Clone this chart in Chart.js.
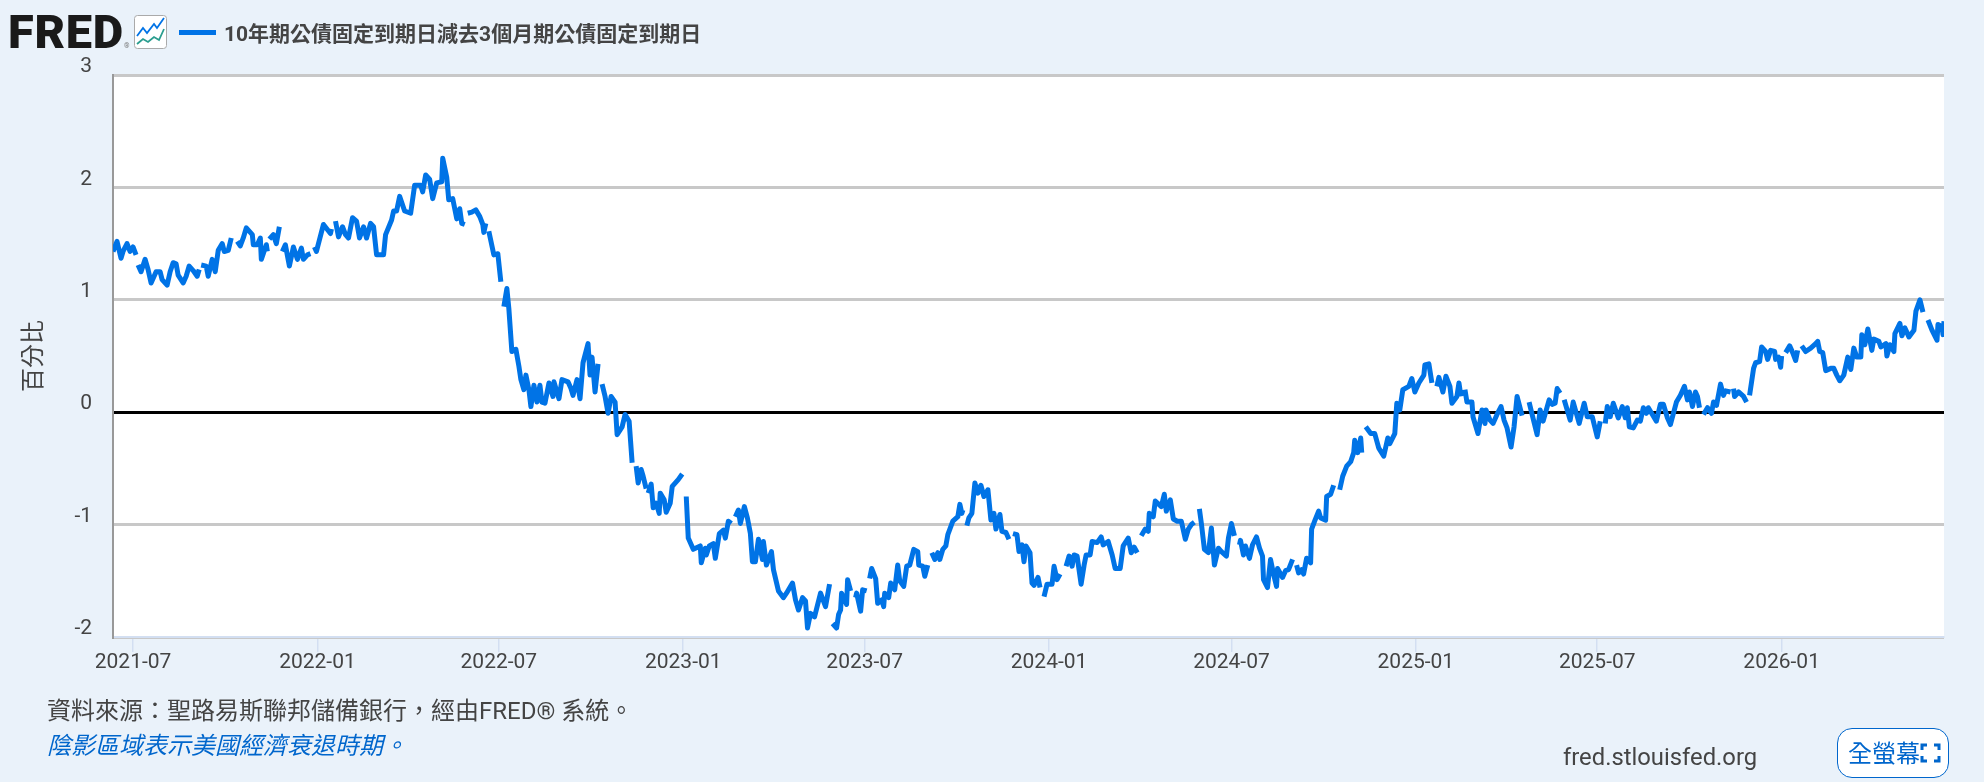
<!DOCTYPE html>
<html lang="zh-Hant">
<head>
<meta charset="utf-8">
<title>FRED</title>
<script src="https://cdn.jsdelivr.net/npm/chart.js@4"></script>
<style>
  html, body { margin: 0; padding: 0; background: #eaf2fa; }
  #page { position: relative; width: 1984px; height: 782px; overflow: hidden; background: #eaf2fa; }
  #myChart { position: absolute; left: 0; top: 0; }
  .txt { position: absolute; white-space: nowrap; color: #444; font-family: Roboto, "Noto Sans CJK TC", sans-serif; line-height: 1; }
  #logo { left: 8px; top: 8px; font-size: 47px; font-weight: 900; color: #1a1a1a; letter-spacing: 0.7px; }
  #logo sup { font-size: 7px; font-weight: 400; color: #777; letter-spacing: 0; vertical-align: baseline; margin-left: 0; }
  #icon { position: absolute; left: 134px; top: 15px; }
  #swatch { position: absolute; left: 179px; top: 30px; width: 37px; height: 5px; background: #0073e6; }
  #legendText { left: 224px; top: 24px; font-size: 21px; font-weight: 700; }
  #source { left: 47px; top: 699px; font-size: 24px; }
  #shading { left: 47px; top: 734px; font-size: 24px; font-style: italic; color: #0066cc; }
  #site { left: 1563px; top: 746px; font-size: 23.8px; }
  #fullBtn { position: absolute; left: 1837px; top: 728px; width: 112px; height: 50px; box-sizing: border-box; border: 1.5px solid #0066cc; border-radius: 15px; background: #fff; }
  #fullBtn span { position: absolute; left: 10px; top: 11px; font-size: 24px; color: #0066cc; font-family: "Noto Sans CJK TC", sans-serif; line-height: 1; white-space: nowrap; }
  #fullBtn svg { position: absolute; left: 82px; top: 14px; }
</style>
</head>
<body>
<div id="page">
  <canvas id="myChart" width="1984" height="782"></canvas>
  <div class="txt" id="logo">FRED<sup>®</sup></div>
  <svg id="icon" width="33" height="34" viewBox="0 0 33 34">
    <rect x="0.5" y="0.5" width="32" height="33" rx="3" fill="#fff" stroke="#aaa"/>
    <polyline points="3,21 9,13 13,18 20,9 23,13 30,3" fill="none" stroke="#0073e6" stroke-width="1.8"/>
    <polyline points="3,29 9,24 14,27 20,22 25,25 30,14" fill="none" stroke="#2a9d8f" stroke-width="1.8"/>
  </svg>
  <div id="swatch"></div>
  <div class="txt" id="legendText"></div>
  <div class="txt" id="source">資料來源：聖路易斯聯邦儲備銀行，經由FRED® 系統。</div>
  <div class="txt" id="shading">陰影區域表示美國經濟衰退時期。</div>
  <div class="txt" id="site">fred.stlouisfed.org</div>
  <div id="fullBtn">
    <span>全螢幕</span>
    <svg width="21" height="20" viewBox="0 0 21 20" fill="none" stroke="#0066cc" stroke-width="3">
      <path d="M7,2 H2 V7 M14,2 H19 V7 M2,13 V18 H7 M19,13 V18 H14"/>
    </svg>
  </div>
</div>
<script>
const seriesName = '10年期公債固定到期日減去3個月期公債固定到期日';
const axisTitle = '百分比';
const firstDay = Date.UTC(2021, 5, 11);
const lastDayOffset = 1827;
const monthLabels = ['2021-07', '2022-01', '2022-07', '2023-01', '2023-07', '2024-01', '2024-07', '2025-01', '2025-07', '2026-01'];

// days after firstDay, one entry per reading in spreadPct (null = no data that day)
const obsDay = [
  0,4,8,10,14,17,20,23,24,
  25,28,32,35,38,43,47,49,54,57,60,63,65,70,73,76,80,84,86,87,
  88,93,95,99,102,105,109,111,115,118,121,
  124,127,130,133,139,140,144,147,148,153,154,155,
  156,160,163,166,168,
  169,172,176,180,184,188,190,194,197,199,
  201,203,210,217,218,220,
  222,225,229,232,235,239,243,246,250,253,257,260,263,270,272,278,280,283,286,291,297,301,307,309,312,316,319,323,328,329,333,335,339,341,343,346,348,351,353,
  354,358,362,366,369,370,372,373,
  375,380,384,387,389,
  390,393,395,398,402,405,407,410,412,415,417,420,423,426,428,431,435,439,440,445,448,454,457,459,463,466,469,474,476,478,481,484,485,
  488,491,494,497,501,503,508,511,515,518,520,
  522,524,527,529,532,533,
  534,537,539,542,545,546,550,552,556,558,562,564,568,570,
  572,574,579,586,587,591,592,595,599,601,605,609,611,614,617,619,
  621,624,626,630,633,636,638,641,644,648,649,652,657,659,664,669,672,678,681,684,688,691,693,696,700,706,711,715,716,
  718,722,724,726,727,732,733,736,738,
  741,742,746,748,752,754,
  755,757,761,763,767,769,770,774,776,780,783,785,789,792,795,799,803,804,808,810,813,814,
  817,820,823,825,828,831,833,838,843,845,847,848,850,
  852,854,857,860,863,866,869,873,876,879,881,885,887,891,894,896,
  898,902,904,907,909,911,915,917,919,923,925,927,
  929,932,937,939,942,945,948,
  951,954,957,959,962,966,969,971,975,977,982,986,988,993,997,1000,1005,1008,1013,1016,1019,1022,1023,
  1026,1030,1033,1034,1038,1040,1046,1049,1051,1055,1058,1062,1066,1070,1073,1076,1079,1081,
  1084,1086,1089,1093,1096,1099,1103,1106,1111,1113,1116,1119,1122,
  1124,1125,1128,1130,1134,1137,1141,1144,1147,1148,1152,1155,1158,1161,1162,1167,1170,1173,1177,1178,
  1181,1183,1186,1188,1191,1195,1196,1199,1203,1205,1210,1211,1215,1218,1221,
  1224,1227,1231,1235,1238,1239,1242,1245,1246,1248,
  1250,1255,1259,1263,1268,1272,1274,1279,1281,1284,1287,1293,1296,1299,1303,1308,1309,1313,1316,1319,
  1321,1323,1327,1330,1334,1336,1341,1343,1345,1347,
  1349,1351,1356,1357,1362,1366,1369,1370,1374,1377,1381,1385,1388,1391,1395,1398,1401,1406,1409,
  1413,1416,1421,1424,1427,1433,1436,1439,1441,1444,1446,
  1448,1454,1457,1463,1468,1471,1476,1481,1484,1487,
  1489,1491,1494,1497,1502,1506,1509,1511,1513,1517,1521,
  1524,1527,1530,1532,1536,1540,1544,1547,1551,1554,1557,1560,1564,1568,1571,1573,1576,1579,1581,1583,1585,
  1587,1591,1595,1597,1600,1604,1607,1609,1614,1615,
  1617,1618,1622,1627,1630,1631,
  1633,1637,1639,1643,1645,1649,1651,1654,1658,1659,1662,1664,1665,1667,
  1669,1673,1676,1679,1681,1683,
  1685,1689,1694,1699,1701,1703,1706,1709,1714,1717,1720,1723,1727,1731,1734,1737,1740,1744,1745,1748,1751,1755,1757,1762,1764,1769,1770,1773,1777,1778,1783,1785,1788,1792,1797,1799,1803,1806,1808,
  1811,1815,1820,1821,1825,1826,1827
];

const spreadPct = [
  1.43,1.52,1.37,1.43,1.50,1.43,1.47,1.40,null,
  1.31,1.25,1.36,1.27,1.15,1.25,1.25,1.18,1.13,1.25,1.33,1.32,1.22,1.15,1.21,1.30,1.26,1.21,1.27,null,
  1.31,1.30,1.21,1.36,1.25,1.44,1.50,1.43,1.44,1.55,null,
  1.52,1.48,1.55,1.64,1.58,1.49,1.49,1.55,1.36,1.49,1.43,null,
  1.54,1.58,1.50,1.65,null,
  1.43,1.49,1.30,1.47,1.36,1.46,1.36,1.40,1.41,null,
  1.47,1.43,1.67,1.59,1.63,null,
  1.70,1.56,1.65,1.58,1.55,1.73,1.70,1.55,1.65,1.55,1.68,1.65,1.40,1.40,1.58,1.71,1.79,1.79,1.92,1.79,1.77,2.02,2.02,1.96,2.11,2.07,1.90,2.04,2.05,2.26,2.09,1.89,1.90,1.81,1.72,1.81,1.68,1.67,null,
  1.77,1.78,1.80,1.74,1.67,1.60,1.68,null,
  1.61,1.40,1.41,1.16,null,
  .94,1.10,.92,.54,.56,.41,.29,.20,.33,.20,.05,.24,.09,.24,.09,.08,.26,.14,.27,.12,.29,.27,.21,.15,.29,.12,.44,.61,.33,.49,.18,.43,null,
  .25,.14,-.01,.14,.09,-.20,-.13,-.02,-.08,-.45,null,
  -.48,-.63,-.51,-.57,-.68,null,
  -.72,-.64,-.85,-.81,-.90,-.72,-.78,-.89,-.81,-.66,-.62,-.60,-.55,null,
  -.75,-1.12,-1.22,-1.19,-1.34,-1.21,-1.27,-1.19,-1.17,-1.30,-1.08,-1.05,-1.12,-.97,-.99,null,
  -.93,-.87,-.99,-.84,-.94,-1.08,-1.33,-1.33,-1.13,-1.31,-1.15,-1.36,-1.24,-1.40,-1.59,-1.65,-1.61,-1.52,-1.67,-1.76,-1.65,-1.68,-1.92,-1.79,-1.82,-1.61,-1.73,-1.53,null,
  -1.88,-1.92,-1.80,-1.76,-1.61,-1.71,-1.49,-1.59,null,
  -1.65,-1.61,-1.77,-1.58,-1.59,null,
  -1.48,-1.39,-1.48,-1.70,-1.67,-1.73,-1.61,-1.65,-1.52,-1.58,-1.36,-1.50,-1.55,-1.37,-1.36,-1.22,-1.24,-1.36,-1.37,-1.46,-1.36,null,
  -1.25,-1.31,-1.25,-1.31,-1.22,-1.19,-1.09,-.97,-.93,-.82,-.90,-.87,null,
  -1.01,-.94,-.90,-.63,-.72,-.65,-.75,-.69,-.96,-.90,-1.04,-.91,-1.06,-1.07,-1.13,null,
  -1.08,-1.09,-1.24,-1.18,-1.33,-1.19,-1.25,-1.52,-1.54,-1.47,-1.56,null,
  -1.64,-1.53,-1.53,-1.37,-1.49,-1.44,null,
  -1.37,-1.28,-1.37,-1.27,-1.28,-1.53,-1.36,-1.27,-1.27,-1.15,-1.16,-1.11,-1.18,-1.15,-1.27,-1.39,-1.39,-1.19,-1.12,-1.25,-1.20,-1.25,null,
  -1.10,-1.04,-1.06,-.90,-.93,-.79,-.84,-.73,-.88,-.78,-.95,-.97,-.97,-1.13,-1.04,-1.00,-.98,null,
  -.86,-.99,-1.22,-1.25,-1.03,-1.36,-1.21,-1.24,-1.28,-1.12,-.99,-1.10,null,
  -1.18,-1.14,-1.27,-1.19,-1.30,-1.18,-1.11,-1.21,-1.28,-1.49,-1.56,-1.31,-1.44,-1.55,-1.39,-1.47,-1.41,-1.40,-1.31,null,
  -1.36,-1.43,-1.40,-1.44,-1.30,-1.34,-1.04,-.97,-.88,-.94,-.96,-.75,-.73,-.65,null,
  -.69,-.57,-.48,-.44,-.36,-.25,-.36,-.23,-.36,null,
  -.13,-.19,-.19,-.32,-.39,-.23,-.28,-.19,.08,.02,.20,.23,.30,.18,.26,.33,.42,.43,.26,null,
  .23,.31,.18,.32,.23,.08,.14,.26,.14,null,
  .20,.09,.09,-.04,-.19,.02,-.10,.02,-.07,-.10,-.02,.05,-.07,-.14,-.31,-.13,.14,-.03,null,
  .09,-.02,-.20,.02,-.08,.11,.07,.08,.21,.17,null,
  .11,-.07,.09,-.10,.08,-.04,-.04,-.22,-.08,null,
  -.10,.05,-.04,.08,-.05,.05,-.05,.04,-.13,-.14,-.07,
  -.08,.04,-.01,.04,-.02,-.08,.07,.07,-.05,-.11,-.01,.09,.15,.23,.11,.18,.05,.18,.14,.04,null,
  -.02,.04,-.01,.09,.06,.25,.15,.19,.18,null,
  .21,.14,.18,.14,.09,null,
  .15,.39,.44,.45,.58,.54,.47,.55,.54,.47,.49,.40,.50,null,
  .53,.59,.53,.46,.55,null,
  .59,.54,.57,.61,.63,.54,.53,.37,.39,.39,.33,.28,.33,.49,.38,.57,.49,.49,.69,.60,.74,.55,.65,.63,.58,.61,.50,.60,.54,.70,.79,.68,.75,.67,.73,.90,1.00,.89,null,
  .82,.73,.64,.78,.76,.69,.81
];

document.getElementById('legendText').textContent = seriesName;

const monthDays = monthLabels.map(m => {
    const [y, mo] = m.split('-').map(Number);
    return (Date.UTC(y, mo - 1, 1) - firstDay) / 86400000;
});

const tickFont = { family: 'Roboto, "Noto Sans", sans-serif', size: 21 };

// white plot background, the canvas itself stays page-coloured
const plotBackground = {
    id: 'plotBackground',
    beforeDraw(chart) {
        const a = chart.chartArea;
        chart.ctx.save();
        chart.ctx.fillStyle = '#ffffff';
        chart.ctx.fillRect(a.left, a.top, a.right - a.left, a.bottom - a.top);
        chart.ctx.restore();
    }
};

const ctx = document.getElementById('myChart');
const myChart = new Chart(ctx, {
    type: 'line',
    data: {
        datasets: [
            {
                label: seriesName,
                data: obsDay.map((d, i) => ({ x: d, y: spreadPct[i] })),
                borderColor: '#0073e6',
                backgroundColor: '#0073e6',
                borderWidth: 5,
                borderJoinStyle: 'round',
                pointRadius: 0,
                tension: 0,
                spanGaps: false
            }
        ]
    },
    options: {
        responsive: false,
        animation: false,
        layout: { padding: { top: 75, right: 40, bottom: 0, left: 0 } },
        plugins: {
            legend: { display: false },
            tooltip: { enabled: false }
        },
        scales: {
            x: {
                type: 'linear',
                min: 0,
                max: lastDayOffset,
                afterBuildTicks(scale) {
                    scale.ticks = monthDays.map(v => ({ value: v }));
                },
                afterFit(scale) {
                    scale.height = 145;
                },
                grid: { drawOnChartArea: false, color: '#d3dff2', lineWidth: 1.5, tickLength: 15 },
                border: { color: '#d3dff2', width: 2 },
                ticks: {
                    color: '#444',
                    font: tickFont,
                    padding: -2,
                    maxRotation: 0,
                    minRotation: 0,
                    autoSkip: false,
                    callback: v => monthLabels[monthDays.indexOf(v)]
                }
            },
            y: {
                min: -2,
                max: 3,
                afterFit(scale) {
                    scale.width = 113;
                },
                title: {
                    display: true,
                    text: axisTitle,
                    color: '#444',
                    font: { family: '"Noto Sans CJK TC", sans-serif', size: 24 },
                    padding: { top: 17, bottom: 0 }
                },
                grid: {
                    drawTicks: false,
                    color: c => (c.tick.value === 0 ? '#000000' : '#c8c8c8'),
                    lineWidth: 3
                },
                border: { color: '#999999', width: 2 },
                ticks: {
                    stepSize: 1,
                    color: '#444',
                    font: tickFont,
                    padding: 21,
                    labelOffset: -8,
                    callback: v => String(v)
                }
            }
        }
    },
    plugins: [plotBackground]
});
</script>
</body>
</html>
